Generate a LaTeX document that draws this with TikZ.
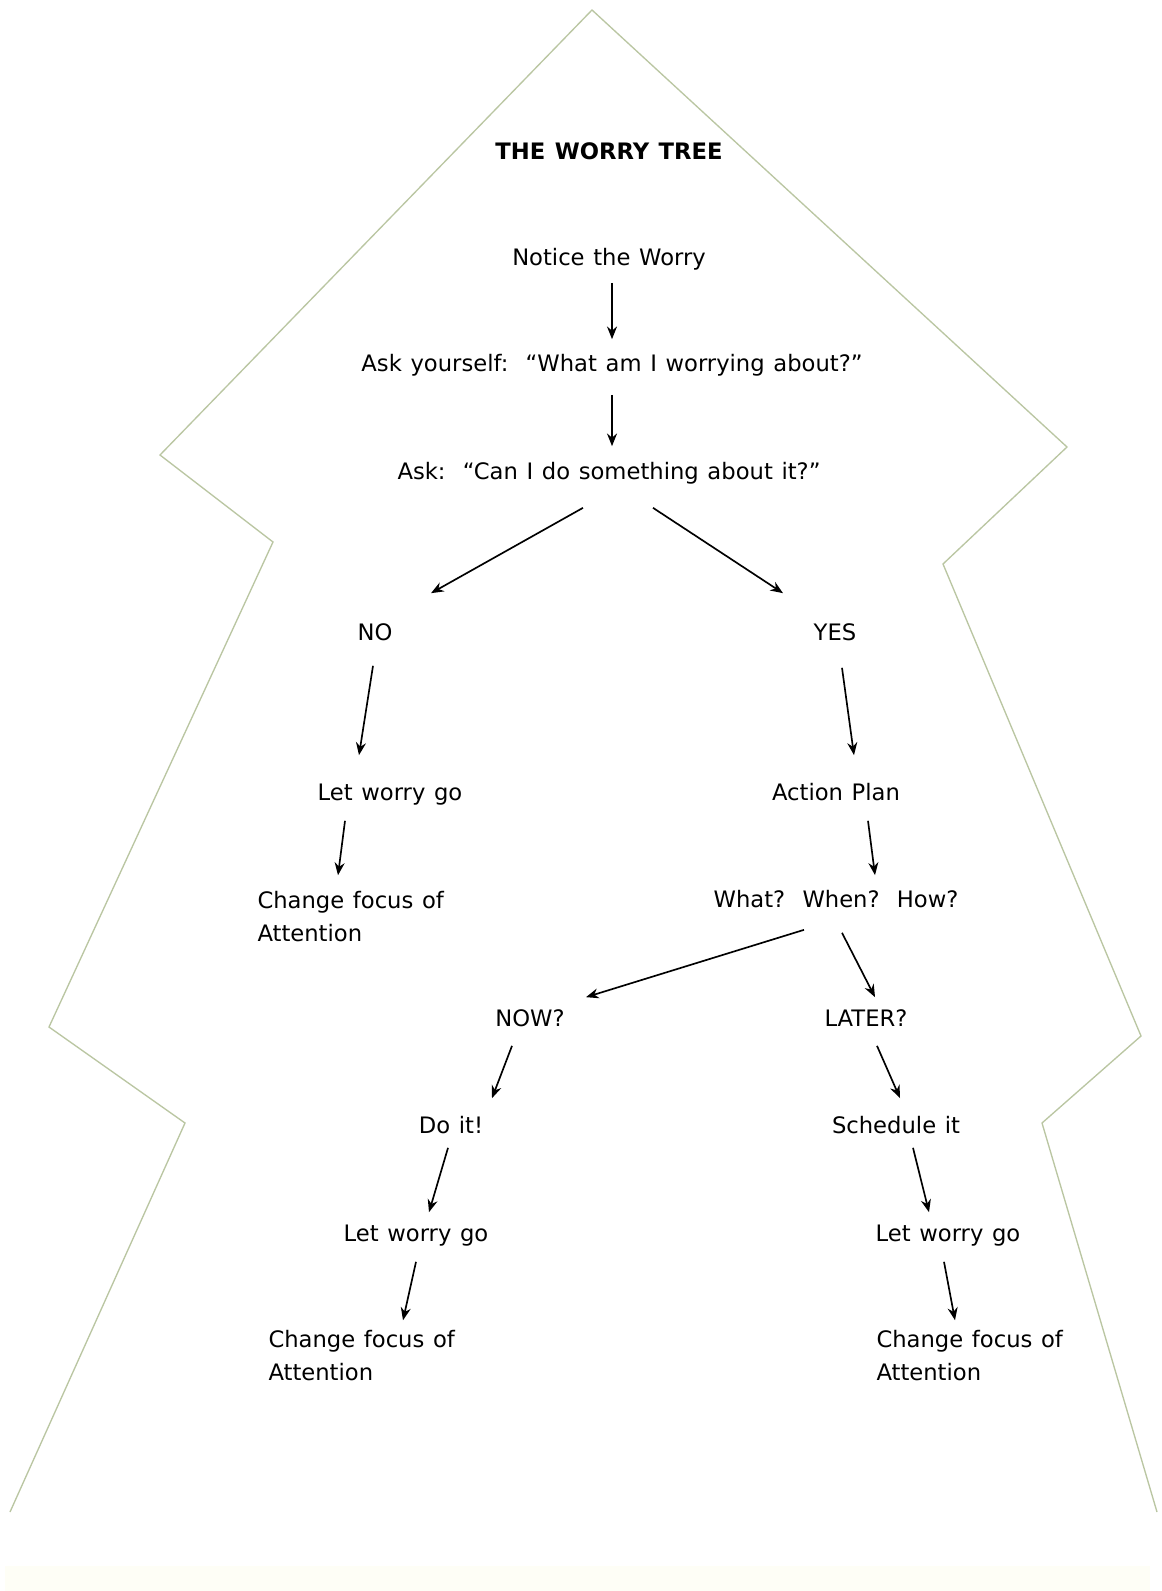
\documentclass[tikz,border=0pt]{standalone}
\usepackage{fontspec}
\setmainfont{DejaVu Sans}[WordSpace=1.2]
\usetikzlibrary{arrows.meta,calc}

\definecolor{treeline}{RGB}{186,198,162}
\definecolor{paleband}{RGB}{254,254,246}

\tikzset{every picture/.style={line width=0.75pt}}
\tikzset{
  lbl/.style={font=\fontsize{17}{24.75}\selectfont, inner sep=0pt, text height=13pt, text depth=4pt},
  lbltwo/.style={font=\fontsize{17}{24.75}\selectfont, inner sep=0pt, align=left, anchor=west},
  arr/.style={line width=1.25pt, -{Stealth[length=9.5pt,width=7.5pt]}},
}

\begin{document}
\begin{tikzpicture}[x=0.75pt,y=0.75pt,yscale=-1,xscale=1]
\useasboundingbox (0,0) rectangle (1162,1591);
\fill[white] (0,0) rectangle (1162,1591);
\fill[paleband] (5,1566) rectangle (1150,1591);

%Shape: Tree outline
\draw[treeline, line width=1pt, line join=miter]
  (10,1512) -- (185,1123) -- (49,1027) -- (273,542) -- (160,455)
  -- (592,10)
  -- (1067,447) -- (943,564) -- (1141,1036) -- (1042,1123) -- (1157,1512) ;

%Title
\node[lbl, font=\fontsize{17}{24.75}\selectfont\bfseries] (title) at (609,154) {THE WORRY TREE};

%Top of the tree
\node[lbl] (notice) at (609,259) {Notice the Worry};
\node[lbl] (askself) at (612,365) {Ask yourself:~~“What am I worrying about?”};
\node[lbl] (ask) at (609,473) {Ask:~~“Can I do something about it?”};

%Branches
\node[lbl] (no) at (375,634) {NO};
\node[lbl] (yes) at (835,634) {YES};
\node[lbl] (letgoA) at (390,794) {Let worry go};
\node[lbl] (plan) at (836,794) {Action Plan};
\node[lbltwo] (changeA) at (257,917) {Change focus of\\Attention};
\node[lbl] (what) at (836,901) {What?~~When?~~How?};
\node[lbl] (now) at (530,1020) {NOW?};
\node[lbl] (later) at (866,1020) {LATER?};
\node[lbl] (doit) at (451,1127) {Do it!};
\node[lbl] (sched) at (896,1127) {Schedule it};
\node[lbl] (letgoB) at (416,1235) {Let worry go};
\node[lbl] (letgoC) at (948,1235) {Let worry go};
\node[lbltwo] (changeB) at (268,1356) {Change focus of\\Attention};
\node[lbltwo] (changeC) at (876,1356) {Change focus of\\Attention};

%Straight Lines
\draw[arr] ($(notice.south)+(3,12)$) -- ($(askself.north)+(0,-14)$);
\draw[arr] ($(askself.south)+(0,18)$) -- ($(ask.north)+(3,-15)$);
\draw[arr] ($(ask.south)+(-26,23)$) -- ($(no.north)+(56,-29)$);
\draw[arr] ($(ask.south)+(44,23)$) -- ($(yes.north)+(-52,-29)$);
\draw[arr] ($(no.south)+(-2,20)$) -- ($(letgoA.north)+(-31,-27)$);
\draw[arr] ($(yes.south)+(7,22)$) -- ($(plan.north)+(18,-27)$);
\draw[arr] ($(letgoA.south)+(-45,15)$) -- ($(changeA.north west)+(81,-16)$);
\draw[arr] ($(plan.south)+(32,15)$) -- ($(what.north)+(39,-14)$);
\draw[arr] ($(what.south)+(-32,17)$) -- ($(now.north)+(56,-11)$);
\draw[arr] ($(what.south)+(6,20)$) -- ($(later.north)+(9,-11)$);
\draw[arr] ($(now.south)+(-18,14)$) -- ($(doit.north)+(41,-17)$);
\draw[arr] ($(later.south)+(11,14)$) -- ($(sched.north)+(4,-17)$);
\draw[arr] ($(doit.south)+(-3,9)$) -- ($(letgoB.north)+(13,-11)$);
\draw[arr] ($(sched.south)+(17,9)$) -- ($(letgoC.north)+(-19,-11)$);
\draw[arr] ($(letgoB.south)+(0,15)$) -- ($(changeB.north west)+(135,-10)$);
\draw[arr] ($(letgoC.south)+(-4,15)$) -- ($(changeC.north west)+(79,-10)$);

\end{tikzpicture}
\end{document}
